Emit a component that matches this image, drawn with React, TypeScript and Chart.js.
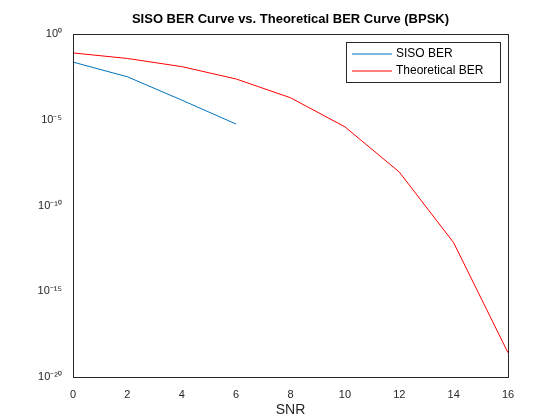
import { useEffect, useRef } from "react";
import { Chart, registerables } from "chart.js";

Chart.register(...registerables);

const snrSiso = [0, 2, 4, 6];
const berSiso = [0.023, 0.0032, 1.4e-4, 5.6e-6];
const snrTheory = [0, 2, 4, 6, 8, 10, 12, 14, 16];
const berTheory = [7.86e-2, 3.75e-2, 1.25e-2, 2.39e-3, 1.91e-4, 3.87e-6, 9.0e-9, 6.8e-13, 2.6e-19];
const yExponents = [-20, -15, -10, -5, 0];
const sup: Record<string, string> = { "-": "⁻", "0": "⁰", "1": "¹", "2": "²", "5": "⁵" };

const FONT = "'Liberation Sans', Arial, sans-serif";

const framePlugin = {
  id: "frame",
  afterDraw(chart: any) {
    const { ctx, chartArea: a } = chart;
    ctx.save();
    ctx.strokeStyle = "#262626";
    ctx.lineWidth = 1;
    ctx.strokeRect(a.left + 0.5, a.top + 0.5, a.right - a.left, a.bottom - a.top);
    // title and x label
    ctx.fillStyle = "#000";
    ctx.textAlign = "center";
    ctx.font = `bold 13px ${FONT}`;
    ctx.fillText("SISO BER Curve vs. Theoretical BER Curve (BPSK)", (a.left + a.right) / 2, 23);
    ctx.fillStyle = "#262626";
    ctx.font = `14px ${FONT}`;
    ctx.fillText("SNR", (a.left + a.right) / 2, 414);
    // legend
    const lx = 346, ly = 42, lw = 154, lh = 40;
    ctx.fillStyle = "#fff";
    ctx.fillRect(lx, ly, lw, lh);
    ctx.strokeStyle = "#262626";
    ctx.strokeRect(lx + 0.5, ly + 0.5, lw, lh);
    ctx.font = `12px ${FONT}`;
    ctx.textAlign = "left";
    ctx.textBaseline = "middle";
    chart.data.datasets.forEach((d: any, i: number) => {
      const yy = ly + 12 + i * 17;
      ctx.strokeStyle = d.borderColor;
      ctx.beginPath();
      ctx.moveTo(lx + 6, yy);
      ctx.lineTo(lx + 46, yy);
      ctx.stroke();
      ctx.fillStyle = "#000";
      ctx.fillText(d.label, lx + 50, yy);
    });
    ctx.restore();
  },
};

export default function App() {
  const ref = useRef<HTMLCanvasElement | null>(null);

  useEffect(() => {
    document.body.style.margin = "0";
    if (!ref.current) return;
    const chart = new Chart(ref.current, {
      type: "line",
      data: {
        datasets: [
          {
            label: "SISO BER",
            data: snrSiso.map((x, i) => ({ x, y: berSiso[i] })),
            borderColor: "#0072BD",
            borderWidth: 1,
            pointRadius: 0,
          },
          {
            label: "Theoretical BER",
            data: snrTheory.map((x, i) => ({ x, y: berTheory[i] })),
            borderColor: "#FF0000",
            borderWidth: 1,
            pointRadius: 0,
          },
        ],
      },
      options: {
        animation: false,
        responsive: false,
        layout: { padding: { top: 34, right: 52, left: 0, bottom: 0 } },
        plugins: { legend: { display: false }, tooltip: { enabled: false } },
        scales: {
          x: {
            type: "linear",
            min: 0,
            max: 16,
            grid: { display: false },
            border: { color: "#262626" },
            ticks: { stepSize: 2, color: "#262626", font: { family: FONT, size: 11 } },
            afterFit: (s: any) => { s.height = 43; },
          },
          y: {
            type: "logarithmic",
            min: 1e-20,
            max: 1,
            grid: { display: false },
            border: { color: "#262626" },
            afterBuildTicks: (s: any) => {
              s.ticks = yExponents.map((e) => ({ value: Math.pow(10, e) }));
            },
            ticks: {
              color: "#262626",
              font: { family: FONT, size: 11 },
              callback: (v: any) => {
                const e = Math.round(Math.log10(Number(v)));
                return "10" + String(e).split("").map((c) => sup[c] ?? c).join("");
              },
            },
            afterFit: (s: any) => { s.width = 73; },
          },
        },
      },
      plugins: [framePlugin],
    });
    return () => chart.destroy();
  }, []);

  return <canvas ref={ref} width={560} height={420} style={{ display: "block", width: 560, height: 420 }} />;
}
